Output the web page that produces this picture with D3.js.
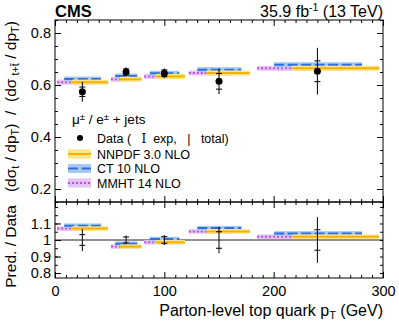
<!DOCTYPE html>
<html>
<head>
<meta charset="utf-8">
<script src="https://cdn.jsdelivr.net/npm/d3@7"></script>
<style>
  body { margin: 0; background: #fff; }
  text { font-family: "Liberation Sans", Arial, sans-serif; fill: #000; white-space: pre; }
  .domain { display: none; }
  .tick line { stroke: #000; stroke-width: 1; }
</style>
</head>
<body>
<div id="chart"></div>
<script>
// bins of parton-level top quark pT (GeV)
const binLo = [0, 50, 80, 120, 180];
const binHi = [50, 80, 120, 180, 300];
const binCenter = [25, 65, 100, 150, 240];

// upper panel: ratio t / (t + tbar)
const dataVal = [0.574, 0.650, 0.645, 0.614, 0.653];
const dataExp = [0.018, 0.012, 0.013, 0.030, 0.040];
const dataTot = [0.038, 0.018, 0.019, 0.049, 0.090];
const nnpdf = [0.611, 0.622, 0.633, 0.646, 0.664];
const ct10 = [0.623, 0.635, 0.645, 0.659, 0.678];
const mmht = [0.611, 0.622, 0.633, 0.646, 0.664];

// lower panel: prediction / data
const ratioExp = [0.032, 0.018, 0.020, 0.050, 0.062];
const ratioTot = [0.067, 0.027, 0.030, 0.080, 0.138];
const nnpdfRatio = [1.069, 0.960, 0.986, 1.052, 1.020];
const ct10Ratio = [1.087, 0.978, 1.006, 1.072, 1.040];
const mmhtRatio = [1.069, 0.960, 0.986, 1.052, 1.020];

const upperTicks = [0.2, 0.4, 0.6, 0.8];
const lowerTicks = [0.8, 0.9, 1, 1.1];
const xTicks = [0, 100, 200, 300];

const W = 399, H = 322;
const padL = 55, padR = 383, padT = 20, padM = 202, padB = 278;

const svg = d3.select('#chart').append('svg')
    .attr('width', W).attr('height', H);
svg.append('rect').attr('width', W).attr('height', H).attr('fill', '#fff');

const x = d3.scaleLinear().domain([0, 300]).range([padL, padR]);
const yU = d3.scaleLinear().domain([0.15, 0.85]).range([padM, padT]);
const yL = d3.scaleLinear().domain([0.77, 1.23]).range([padB, padM]);

const MAJ = 6, MIN = 3;
const xMinor = d3.range(0, 301, 10).filter(v => v % 100 !== 0);

function ticks(axisFn, scale, values, size, pos, fmt) {
    const a = axisFn(scale).tickValues(values).tickSize(-size).tickPadding(4)
        .tickFormat(fmt || '');
    const g = svg.append('g').attr('transform', pos).call(a);
    g.selectAll('text').style('font-size', '14.5px');
    return g;
}

// predictions: style per series
const preds = [
    {name: 'MMHT 14 NLO', up: mmht, lo: mmhtRatio, color: '#c24ee0', band: '#e2c3f2', dash: '2,2', from: 0.04, to: 0.70},
    {name: 'CT 10 NLO', up: ct10, lo: ct10Ratio, color: '#2f6fe0', band: '#a9c8f0', dash: '10,3.5', from: 0.17, to: 0.84},
    {name: 'NNPDF 3.0 NLO', up: nnpdf, lo: nnpdfRatio, color: '#f7b000', band: '#fbe58a', dash: null, from: 0.31, to: 0.97}
];

function drawPreds(yScale, key, bandH) {
    preds.forEach(p => {
        const g = svg.append('g');
        binLo.forEach((lo, i) => {
            const w = binHi[i] - lo;
            const x0 = x(lo + w * p.from), x1 = x(lo + w * p.to);
            const yy = yScale(p[key][i]);
            g.append('rect').attr('x', x0).attr('y', yy - bandH / 2)
                .attr('width', x1 - x0).attr('height', bandH).attr('fill', p.band);
            g.append('line').attr('x1', x0).attr('x2', x1).attr('y1', yy).attr('y2', yy)
                .attr('stroke', p.color).attr('stroke-width', 2)
                .attr('stroke-dasharray', p.dash);
        });
    });
}

function drawErrors(yScale, center, exp, tot) {
    const g = svg.append('g').attr('stroke', '#000').attr('stroke-width', 1);
    binCenter.forEach((c, i) => {
        const cx = x(c), v = center[i];
        g.append('line').attr('x1', cx).attr('x2', cx)
            .attr('y1', yScale(v - tot[i])).attr('y2', yScale(v + tot[i]));
        [v - exp[i], v + exp[i]].forEach(e => {
            g.append('line').attr('x1', cx - 3).attr('x2', cx + 3)
                .attr('y1', yScale(e)).attr('y2', yScale(e));
        });
    });
}

// upper panel
drawPreds(yU, 'up', 5);
drawErrors(yU, dataVal, dataExp, dataTot);
svg.append('g').selectAll('circle').data(dataVal).join('circle')
    .attr('cx', (d, i) => x(binCenter[i])).attr('cy', d => yU(d))
    .attr('r', 3.5).attr('fill', '#000');

// lower panel
svg.append('line').attr('x1', padL).attr('x2', padR)
    .attr('y1', yL(1)).attr('y2', yL(1)).attr('stroke', '#222').attr('stroke-width', 1);
drawPreds(yL, 'lo', 4.5);
drawErrors(yL, binCenter.map(() => 1), ratioExp, ratioTot);

// frames
[[padT, padM], [padM, padB]].forEach(([t, b]) => {
    svg.append('rect').attr('x', padL).attr('y', t).attr('width', padR - padL)
        .attr('height', b - t).attr('fill', 'none').attr('stroke', '#000').attr('stroke-width', 1);
});

// axes, ticks pointing inward
const uMinor = d3.range(0.15, 0.851, 0.05).map(v => +v.toFixed(2));
ticks(d3.axisLeft, yU, upperTicks, MAJ, `translate(${padL},0)`, d3.format('.1f'));
ticks(d3.axisLeft, yU, uMinor, MIN, `translate(${padL},0)`);
ticks(d3.axisRight, yU, upperTicks, MAJ, `translate(${padR},0)`);
ticks(d3.axisRight, yU, uMinor, MIN, `translate(${padR},0)`);
ticks(d3.axisTop, x, xTicks, MAJ, `translate(0,${padT})`);
ticks(d3.axisTop, x, xMinor, MIN, `translate(0,${padT})`);
ticks(d3.axisBottom, x, xTicks, MAJ, `translate(0,${padM})`);
ticks(d3.axisBottom, x, xMinor, MIN, `translate(0,${padM})`);

const lMinor = d3.range(0.8, 1.201, 0.05).map(v => +v.toFixed(2));
ticks(d3.axisLeft, yL, lowerTicks, MAJ, `translate(${padL},0)`, d => String(d));
ticks(d3.axisLeft, yL, lMinor.concat([1.2]), MIN, `translate(${padL},0)`);
ticks(d3.axisRight, yL, lMinor, MIN, `translate(${padR},0)`);
ticks(d3.axisTop, x, xTicks, MAJ, `translate(0,${padM})`);
ticks(d3.axisTop, x, xMinor, MIN, `translate(0,${padM})`);
ticks(d3.axisBottom, x, xTicks, MAJ, `translate(0,${padB})`, d => String(d)).selectAll('text').attr('dy', '0.95em');
ticks(d3.axisBottom, x, xMinor, MIN, `translate(0,${padB})`);

// axis titles
const xt = svg.append('text').attr('x', padR).attr('y', 316).attr('text-anchor', 'end')
    .style('font-size', '16px');
xt.append('tspan').text('Parton-level top quark p');
xt.append('tspan').text('T').style('font-size', '11px').attr('dy', 3);
xt.append('tspan').text(' (GeV)').attr('dy', -3);

const yt = svg.append('text').attr('transform', `translate(16,${padT + 1}) rotate(-90)`)
    .attr('text-anchor', 'end').style('font-size', '15.5px');
yt.append('tspan').text('(dσ');
yt.append('tspan').text('t').style('font-size', '11px').attr('dy', 3);
yt.append('tspan').text(' / dp').attr('dy', -3);
yt.append('tspan').text('T').style('font-size', '11px').attr('dy', 3);
yt.append('tspan').text(')  /  (dσ').attr('dy', -3);
yt.append('tspan').text(' t+t\u0304').style('font-size', '11px').attr('dy', 3);
yt.append('tspan').text(' / dp').attr('dy', -3);
yt.append('tspan').text('T').style('font-size', '11px').attr('dy', 3);
yt.append('tspan').text(')').attr('dy', -3);

svg.append('text').attr('transform', `translate(16,${padM + 3}) rotate(-90)`)
    .attr('text-anchor', 'end').style('font-size', '15.5px').text('Pred. / Data');

// header
svg.append('text').attr('x', padL).attr('y', 17).style('font-size', '16.5px')
    .style('font-weight', 'bold').text('CMS');
const lumi = svg.append('text').attr('x', padR).attr('y', 17).attr('text-anchor', 'end')
    .style('font-size', '16px');
lumi.append('tspan').text('35.9 fb');
lumi.append('tspan').text('-1').style('font-size', '10.5px').attr('dy', -6);
lumi.append('tspan').text(' (13 TeV)').attr('dy', 6);

// legend
const leg = svg.append('g').style('font-size', '12.5px');
const head = leg.append('text').attr('x', 72).attr('y', 124).style('font-size', '13.5px');
head.append('tspan').text('μ');
head.append('tspan').text('±').style('font-size', '9.5px').attr('dy', -4);
head.append('tspan').text(' / e').attr('dy', 4);
head.append('tspan').text('±').style('font-size', '9.5px').attr('dy', -4);
head.append('tspan').text(' + jets').attr('dy', 4);

leg.append('circle').attr('cx', 80).attr('cy', 138).attr('r', 3).attr('fill', '#000');
const dl = leg.append('text').attr('x', 97).attr('y', 142.5);
dl.append('tspan').text('Data (   ');
dl.append('tspan').text('I').style('font-family', 'DejaVu Serif, serif').style('font-size', '12px');
dl.append('tspan').text('  exp,   |   total)');

const legRows = [preds[2], preds[1], preds[0]];
legRows.forEach((p, i) => {
    const cy = 154 + i * 14.5;
    leg.append('rect').attr('x', 68).attr('y', cy - 4.5).attr('width', 23).attr('height', 9)
        .attr('fill', p.band);
    leg.append('line').attr('x1', 68).attr('x2', 91).attr('y1', cy).attr('y2', cy)
        .attr('stroke', p.color).attr('stroke-width', 2).attr('stroke-dasharray', p.dash);
    leg.append('text').attr('x', 97).attr('y', cy + 4.5).text(p.name);
});
</script>
</body>
</html>
